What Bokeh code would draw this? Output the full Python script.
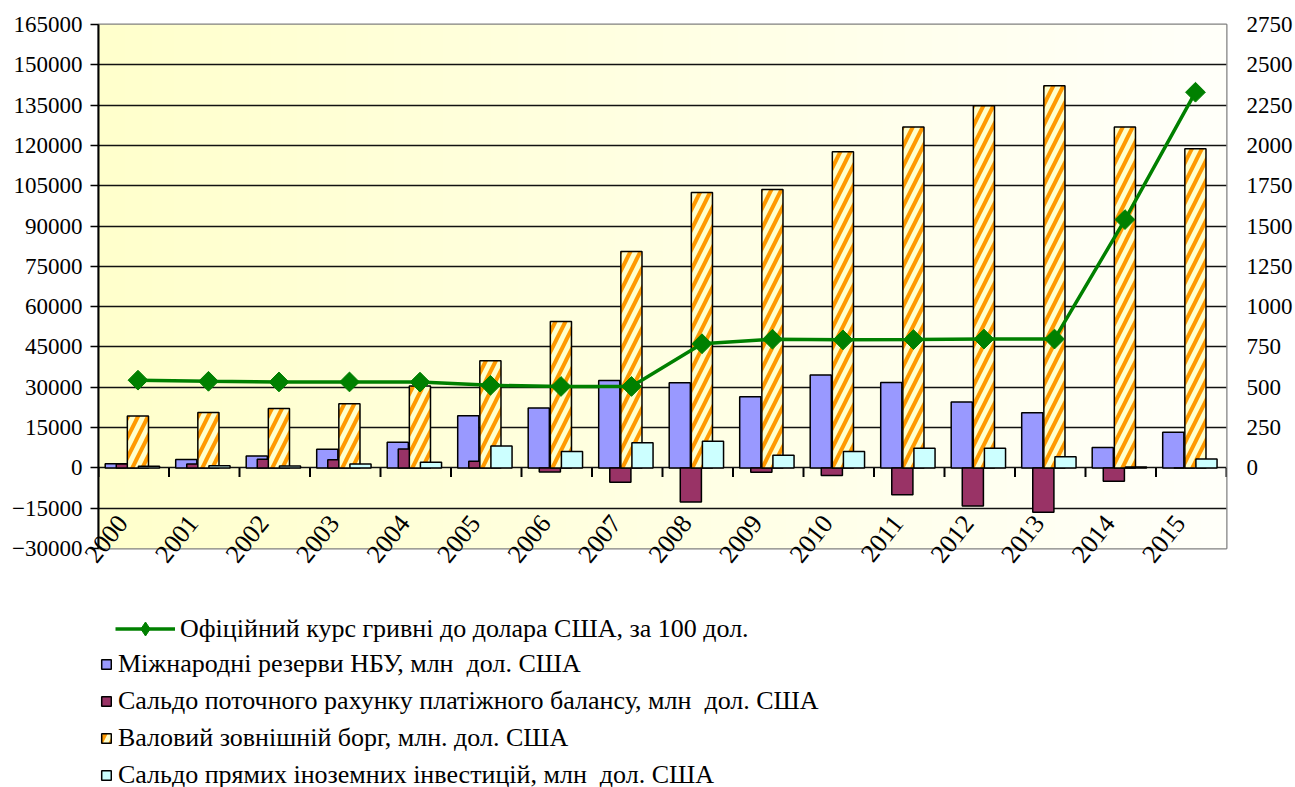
import numpy as np
from bokeh.plotting import figure
from bokeh.layouts import column
from bokeh.models import (Range1d, LinearAxis, FixedTicker, BasicTickFormatter,
                          CustomJSTickFormatter, Legend, LegendItem, ColumnDataSource)
from bokeh.transform import dodge
from bokeh.embed import file_html
from bokeh.resources import INLINE

# ---------------- data ----------------
years = ["2000", "2001", "2002", "2003", "2004", "2005", "2006", "2007",
         "2008", "2009", "2010", "2011", "2012", "2013", "2014", "2015"]
reserves = [1500, 3100, 4400, 6900, 9500, 19400, 22300, 32500,
            31700, 26500, 34600, 31800, 24500, 20500, 7600, 13300]
current_account = [1400, 1400, 3200, 3000, 7000, 2500, -1500, -5300,
                   -12700, -1600, -2800, -10000, -14200, -16500, -5000, 0]
external_debt = [19300, 20600, 22100, 23900, 30500, 39900, 54500, 80500,
                 102500, 103600, 117600, 126900, 134800, 142200, 126900, 118800]
fdi_balance = [600, 800, 700, 1400, 2100, 8100, 6100, 9400,
               9900, 4700, 6100, 7300, 7300, 4100, 300, 3300]
exchange_rate = [544, 537, 533, 533, 532, 512, 505, 505,
                 770, 798, 794, 796, 799, 799, 1540, 2330]

labels = ["Офіційний курс гривні до долара США, за 100 дол.",
          "Міжнародні резерви НБУ, млн  дол. США",
          "Сальдо поточного рахунку платіжного балансу, млн  дол. США",
          "Валовий зовнішній борг, млн. дол. США",
          "Сальдо прямих іноземних інвестицій, млн  дол. США"]

left_ticks = list(range(-30000, 165001, 15000))
right_ticks = list(range(0, 2751, 250))
y_left = (-30000, 165000)
y_right = (-500, 2750)

# ---------------- style ----------------
FONT = "Liberation Serif"
BAR_W = 0.30
OFFS = [-0.255, -0.098, 0.059, 0.216]
LINE_OFF = 0.06
LABEL_SHIFT = 0.16

C_RES, C_CA, C_DEBT, C_FDI = "#9999FF", "#993366", "#FFFFCC", "#CCFFFF"
HATCH = dict(hatch_pattern="/", hatch_color="#FF9900", hatch_scale=20, hatch_weight=4)
GREEN = "#008000"

idx = np.arange(len(years))
src = ColumnDataSource(dict(x=idx, reserves=reserves, ca=current_account,
                            debt=external_debt, fdi=fdi_balance, rate=exchange_rate))


def add_series(fig, xr, y_name, marker="square", angle=np.pi / 4, visible=True):
    kw = dict(y_range_name=y_name, visible=visible)
    rr = fig.vbar(x=dodge("x", OFFS[0], range=xr), top="reserves", bottom=0, width=BAR_W,
                  source=src, fill_color=C_RES, line_color="black", line_width=1.5,
                  visible=visible)
    rc = fig.vbar(x=dodge("x", OFFS[1], range=xr), top="ca", bottom=0, width=BAR_W,
                  source=src, fill_color=C_CA, line_color="black", line_width=1.5,
                  visible=visible)
    rd = fig.vbar(x=dodge("x", OFFS[2], range=xr), top="debt", bottom=0, width=BAR_W,
                  source=src, fill_color=C_DEBT, line_color="black", line_width=1.5,
                  visible=visible, **HATCH)
    rf = fig.vbar(x=dodge("x", OFFS[3], range=xr), top="fdi", bottom=0, width=BAR_W,
                  source=src, fill_color=C_FDI, line_color="black", line_width=1.5,
                  visible=visible)
    rl = fig.line(x=dodge("x", LINE_OFF, range=xr), y="rate", source=src,
                  line_color=GREEN, line_width=3.5, **kw)
    rp = fig.scatter(x=dodge("x", LINE_OFF, range=xr), y="rate", source=src,
                     marker=marker, angle=angle, size=14,
                     fill_color=GREEN, line_color=GREEN, **kw)
    return rr, rc, rd, rf, rl, rp


# ---------------- main chart ----------------
x_rng = Range1d(-0.5, len(years) - 0.5)
p = figure(width=1295, height=580, output_backend="svg", toolbar_location=None,
           x_range=x_rng, y_range=Range1d(*y_left),
           min_border_left=98, min_border_right=68, min_border_top=24,
           min_border_bottom=32)
p.extra_y_ranges = {"rate": Range1d(*y_right)}
p.background_fill_color = "#FFFFE8"
p.border_fill_color = "white"
p.outline_line_color = "#808080"
p.outline_line_width = 2

# gradient background of the plot area
n = 256
grad = np.zeros((1, n), dtype=np.uint32)
view = grad.view(dtype=np.uint8).reshape((1, n, 4))
t = np.linspace(0, 1, n)
view[0, :, 0] = 255
view[0, :, 1] = 255
view[0, :, 2] = (204 + 46 * t).astype(np.uint8)
view[0, :, 3] = 255
p.image_rgba(image=[grad], x=x_rng.start, y=y_left[0],
             dw=x_rng.end - x_rng.start, dh=y_left[1] - y_left[0], level="image")

p.xgrid.visible = False
p.ygrid.ticker = FixedTicker(ticks=left_ticks)
p.ygrid.grid_line_color = "#111111"
p.ygrid.grid_line_width = 1.3

add_series(p, x_rng, "rate")

# category tick marks on the zero line
bounds = np.arange(len(years) + 1) - 0.5
p.segment(x0=bounds, y0=0, x1=bounds, y1=-3400, line_color="black", line_width=2)

# left axis
yl = p.yaxis[0]
yl.ticker = FixedTicker(ticks=left_ticks)
yl.formatter = BasicTickFormatter(use_scientific=False)
yl.axis_line_color = "black"
yl.axis_line_width = 2
yl.major_tick_line_color = "black"
yl.major_tick_line_width = 1.5
yl.major_tick_in = 0
yl.major_tick_out = 8
yl.minor_tick_line_color = None
yl.major_label_standoff = 8
yl.major_label_text_font = FONT
yl.major_label_text_font_size = "23px"
yl.major_label_text_color = "black"

# right axis
yr = LinearAxis(y_range_name="rate", ticker=FixedTicker(ticks=right_ticks))
yr.axis_line_color = None
yr.major_tick_line_color = None
yr.minor_tick_line_color = None
yr.major_tick_in = 0
yr.major_tick_out = 0
yr.major_label_standoff = 20
yr.major_label_text_font = FONT
yr.major_label_text_font_size = "23px"
yr.major_label_text_color = "black"
p.add_layout(yr, "right")

# x axis (rotated year labels)
xa = p.xaxis[0]
xa.ticker = FixedTicker(ticks=[float(i) - LABEL_SHIFT for i in idx])
xa.formatter = CustomJSTickFormatter(args=dict(labels=years, shift=LABEL_SHIFT),
                                     code="return labels[Math.round(tick + shift)]")
xa.major_label_orientation = 0.9
xa.axis_line_color = None
xa.major_tick_line_color = None
xa.minor_tick_line_color = None
xa.major_tick_in = 0
xa.major_tick_out = 0
xa.major_label_standoff = -30
xa.major_label_text_font = FONT
xa.major_label_text_font_size = "26px"
xa.major_label_text_color = "black"

# ---------------- legend strip ----------------
LEG_H = 207
q = figure(width=1295, height=LEG_H, output_backend="svg", toolbar_location=None,
           x_axis_type=None, y_axis_type=None, min_border=0,
           x_range=Range1d(-0.5, len(years) - 0.5), y_range=Range1d(1e9, 2e9))
q.extra_y_ranges = {"rate": Range1d(1e9, 2e9)}
q.outline_line_color = None
q.grid.visible = False
rr, rc, rd, rf, rl, rp = add_series(q, q.x_range, "rate", marker="diamond", angle=0,
                                    visible=False)

common = dict(padding=0, margin=0, border_line_color=None, background_fill_alpha=0,
              label_text_font=FONT, label_text_font_size="26px",
              label_text_color="black", inactive_fill_alpha=0)
leg1 = Legend(items=[LegendItem(label=labels[0], renderers=[rl, rp])],
              location=(17, 141), glyph_width=60, glyph_height=35, label_height=35,
              label_standoff=5, **common)
leg2 = Legend(items=[LegendItem(label=labels[1], renderers=[rr]),
                     LegendItem(label=labels[2], renderers=[rc]),
                     LegendItem(label=labels[3], renderers=[rd]),
                     LegendItem(label=labels[4], renderers=[rf])],
              location=(2, -3), glyph_width=12, glyph_height=12, label_height=31,
              spacing=6, label_standoff=6, **common)
q.add_layout(leg1)
q.add_layout(leg2)

open("out.html", "w").write(file_html(column(p, q, spacing=0), INLINE))
